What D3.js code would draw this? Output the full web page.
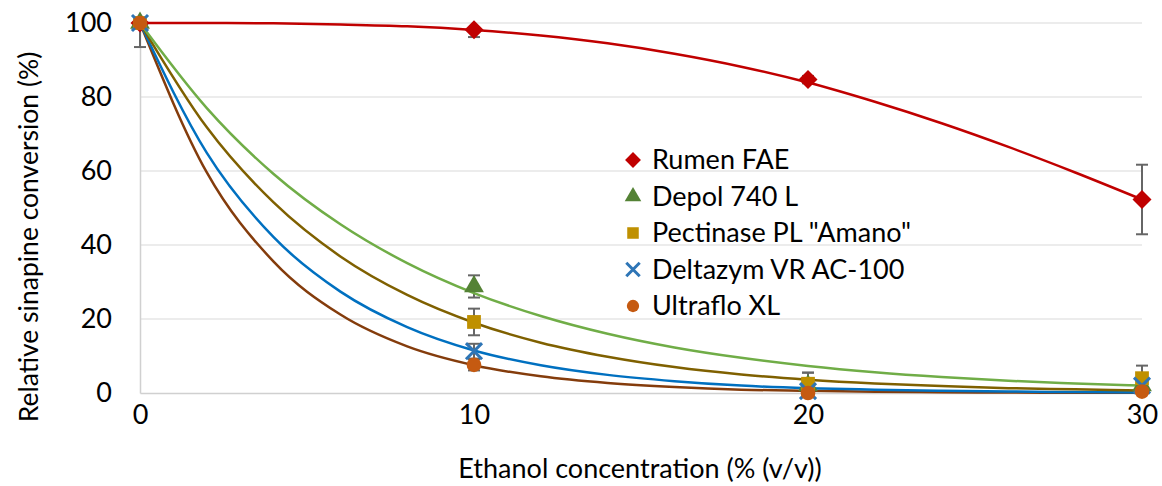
<!DOCTYPE html>
<html><head><meta charset="utf-8">
<script src="https://cdn.jsdelivr.net/npm/d3@7"></script>
<style>body{margin:0;background:#fff}svg{font-family:Lato,"Open Sans",sans-serif}</style>
</head><body><svg id="c" width="1162" height="486"></svg>
<script>
const xTicks=[0,10,20,30];
const yTicks=[0,20,40,60,80,100];
const seriesNames=["Rumen FAE","Depol 740 L","Pectinase PL \"Amano\"","Deltazym VR AC-100","Ultraflo XL"];
const xData=[0,10,20,30];
const rumen=[100,98.2,84.7,52.3], rumenErr=[0,2,1,9.4];
const depol=[100,28.8,2,2], depolErr=[6.5,3,3.5,1];
const pect=[100,19.2,2.5,4], pectErr=[0,3.6,3,3.4];
const delta=[100,11.3,0.5,2], deltaErr=[0,2,0.5,0.5];
const ultra=[100,7.6,0,0.4], ultraErr=[0,1.5,0.3,0.3];
const curveX=[0,2,4,6,8,10,12,14,16,18,20,22,24,26,28,30];
const rumenFit=[100,100,99.9,99.6,99.1,98.1,96.6,94.5,91.7,88.2,83.9,78.7,72.9,66.5,59.6,52.3];
const depolFit=[100,77,59.2,45.6,35.1,27.0,20.8,16.0,12.3,9.5,7.3,5.6,4.3,3.3,2.6,2.0];
const pectFit=[100,71.8,51.5,36.9,26.5,19.0,13.6,9.8,7.0,5.0,3.6,2.6,1.9,1.3,1.0,0.7];
const deltaFit=[100,64.9,42.1,27.4,17.8,11.5,7.5,4.9,3.2,2.0,1.3,0.9,0.6,0.4,0.25,0.15];
const ultraFit=[100,59.6,35.5,21.2,12.6,7.5,4.5,2.7,1.6,0.9,0.6,0.35,0.2,0.12,0.07,0.04];

const svg=d3.select("#c");
const x=d3.scaleLinear().domain([0,30]).range([140,1142]);
const y=d3.scaleLinear().domain([0,100]).range([393,23]);

// gridlines
svg.append("g").selectAll("line").data(yTicks.filter(d=>d>0)).join("line")
 .attr("x1",x(0)).attr("x2",x(30)).attr("y1",d=>y(d)).attr("y2",d=>y(d))
 .attr("stroke","#e6e6e6").attr("stroke-width",1.5);
// axes
const yAx=svg.append("g").attr("transform",`translate(${x(0)},0)`)
 .call(d3.axisLeft(y).tickValues(yTicks).tickSize(0).tickPadding(28));
yAx.select(".domain").attr("stroke","#d0d0d0").attr("stroke-width",1.5);
yAx.selectAll("text").attr("font-size",27).attr("fill","#000").attr("font-family","Lato,sans-serif");
const xAx=svg.append("g").attr("transform",`translate(0,${y(0)})`)
 .call(d3.axisBottom(x).tickValues(xTicks).tickSize(0).tickPadding(12));
xAx.select(".domain").attr("stroke","#d0d0d0").attr("stroke-width",1.5);
xAx.selectAll("text").attr("font-size",27).attr("fill","#000").attr("font-family","Lato,sans-serif");

svg.append("text").attr("x",640).attr("y",478).attr("text-anchor","middle")
 .attr("font-size",27).text("Ethanol concentration (% (v/v))");
svg.append("text").attr("transform","translate(38,237) rotate(-90)").attr("text-anchor","middle")
 .attr("font-size",26.5).text("Relative sinapine conversion (%)");

const diamond={draw(ctx,size){const r=Math.sqrt(size/2);ctx.moveTo(0,-r);ctx.lineTo(r,0);ctx.lineTo(0,r);ctx.lineTo(-r,0);ctx.closePath();}};
const series=[
 {name:seriesNames[0],v:rumen,e:rumenErr,fit:rumenFit,line:"#C00000",mk:"#C00000",sym:diamond,size:180},
 {name:seriesNames[1],v:depol,e:depolErr,fit:depolFit,line:"#70AD47",mk:"#548235",sym:d3.symbolTriangle,size:170},
 {name:seriesNames[2],v:pect,e:pectErr,fit:pectFit,line:"#7F6000",mk:"#BF9000",sym:d3.symbolSquare,size:190},
 {name:seriesNames[3],v:delta,e:deltaErr,fit:deltaFit,line:"#0070C0",mk:"#2E75B6",sym:d3.symbolX,size:170},
 {name:seriesNames[4],v:ultra,e:ultraErr,fit:ultraFit,line:"#843C0C",mk:"#C55A11",sym:d3.symbolCircle,size:170}
];
const line=d3.line().x((d,i)=>x(curveX[i])).y(d=>y(d)).curve(d3.curveMonotoneX);
// error bars (clipped to axis range)
series.forEach(s=>{
 const g=svg.append("g");
 xData.forEach((xv,i)=>{
  if(!s.e[i])return;
  const cx=x(xv),hi=s.v[i]+s.e[i],lo=Math.max(0,s.v[i]-s.e[i]);
  const t=y(Math.min(100,hi)),b=y(lo);
  g.append("line").attr("x1",cx).attr("x2",cx).attr("y1",t).attr("y2",b).attr("stroke","#666").attr("stroke-width",2);
  const caps=hi<=100?[t,b]:[b];
  caps.forEach(yy=>g.append("line").attr("x1",cx-6).attr("x2",cx+6).attr("y1",yy).attr("y2",yy).attr("stroke","#666").attr("stroke-width",2));
 });
});
// fit curves
[...series].reverse().forEach(s=>{
 svg.append("path").attr("d",line(s.fit)).attr("fill","none").attr("stroke",s.line).attr("stroke-width",2.5);
});
// markers
function marker(g,s,cx,cy,scale){
 const p=g.append("path").attr("d",d3.symbol().type(s.sym).size(s.size*scale)())
  .attr("transform",`translate(${cx},${cy})`);
 if(s.sym===d3.symbolX) p.attr("fill","none").attr("stroke",s.mk).attr("stroke-width",3);
 else p.attr("fill",s.mk);
}
series.forEach(s=>{
 const g=svg.append("g");
 xData.forEach((xv,i)=>marker(g,s,x(xv),y(s.v[i]),1));
});
// legend
const lg=svg.append("g");
series.forEach((s,i)=>{
 const yy=160+i*36.5;
 marker(lg,s,633,yy,0.7);
 lg.append("text").attr("x",652).attr("y",yy+9).attr("font-size",27).text(s.name);
});
</script></body></html>
